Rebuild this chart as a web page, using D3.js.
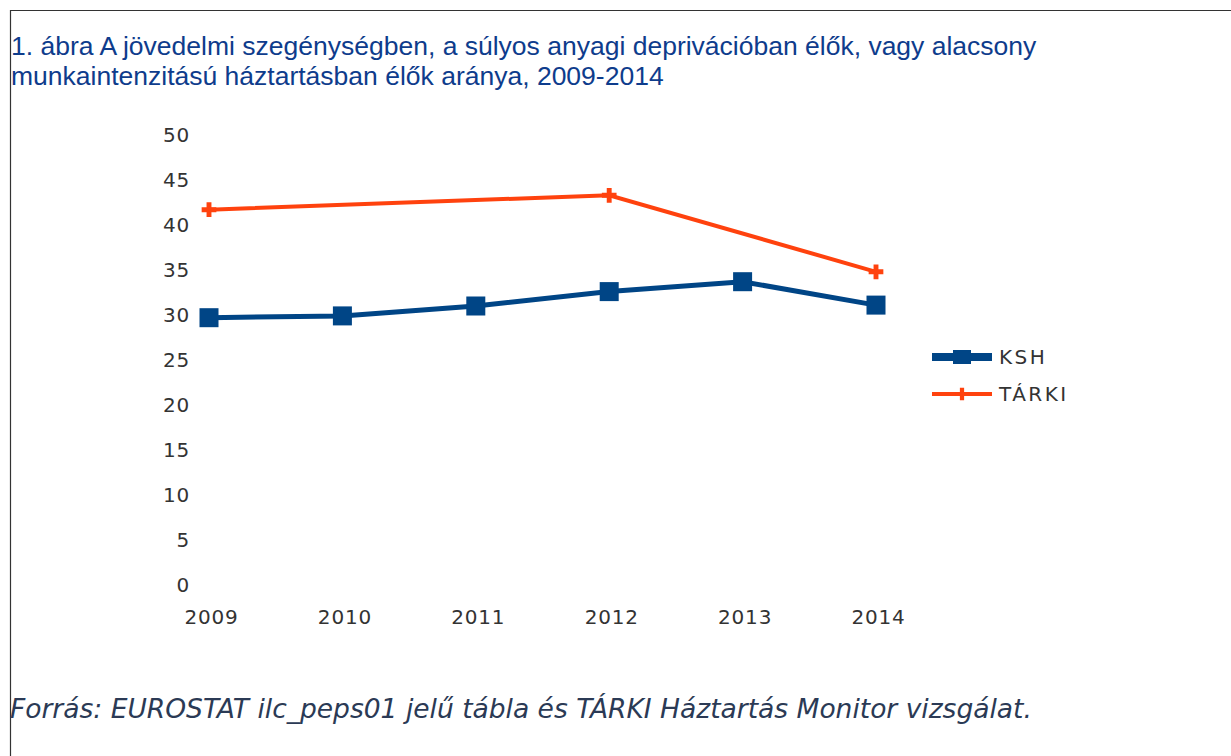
<!DOCTYPE html>
<html>
<head>
<meta charset="utf-8">
<script src="https://cdn.jsdelivr.net/npm/d3@7"></script>
<style>
  html, body { margin: 0; padding: 0; background: #fff; }
  svg { display: block; }
</style>
</head>
<body>
<svg id="chart" width="1231" height="756"></svg>
<script>
const years = ["2009", "2010", "2011", "2012", "2013", "2014"]
const kshValues = [29.7, 29.9, 31.0, 32.6, 33.7, 31.1]
// TÁRKI only has three survey years; the line joins them directly
const tarkiYears = ["2009", "2012", "2014"]
const tarkiValues = [41.7, 43.3, 34.8]
const yTicks = [0, 5, 10, 15, 20, 25, 30, 35, 40, 45, 50]
const titleLines = [
  "1. ábra A jövedelmi szegénységben, a súlyos anyagi deprivációban élők, vagy alacsony",
  "munkaintenzitású háztartásban élők aránya, 2009-2014"
]
const sourceText = "Forrás: EUROSTAT ilc_peps01 jelű tábla és TÁRKI Háztartás Monitor vizsgálat."

const blue = "#004586"
const orange = "#ff420e"

const svg = d3.select("#chart")

// frame (only top and left edges are visible)
svg.append("path")
  .attr("d", "M10.5,756 V10.5 H1231")
  .attr("fill", "none")
  .attr("stroke", "#333")
  .attr("stroke-width", 1.2)

svg.append("g")
  .selectAll("text")
  .data(titleLines)
  .join("text")
    .attr("x", 11)
    .attr("y", (d, i) => 55 + i * 30)
    .attr("fill", "#0e3c8c")
    .style("font-family", "'Liberation Sans', Arial, sans-serif")
    .style("font-size", "26.5px")
    .text(d => d)

svg.append("text")
  .attr("x", 10)
  .attr("y", 718)
  .attr("fill", "#2b3a55")
  .style("font-family", "'DejaVu Sans', sans-serif")
  .style("font-style", "italic")
  .style("font-size", "26.5px")
  .text(sourceText)

const x = d3.scalePoint()
  .domain(years)
  .range([209, 876])
const y = d3.scaleLinear()
  .domain([0, 50])
  .range([585, 135])

const tickFont = g => g
  .call(g => g.select(".domain").remove())
  .call(g => g.selectAll("text")
    .attr("fill", "#333")
    .style("font-family", "'DejaVu Sans', sans-serif")
    .style("font-size", "20px")
    .style("letter-spacing", "0.8px"))

svg.append("g")
  .attr("transform", "translate(190,0)")
  .call(d3.axisLeft(y).tickValues(yTicks).tickSize(0).tickPadding(0))
  .call(tickFont)

svg.append("g")
  .attr("transform", "translate(2,610)")
  .call(d3.axisBottom(x).tickSize(0).tickPadding(0))
  .call(tickFont)

const line = d3.line()
  .x(d => x(d.year))
  .y(d => y(d.value))

const ksh = years.map((yr, i) => ({year: yr, value: kshValues[i]}))
const tarki = tarkiYears.map((yr, i) => ({year: yr, value: tarkiValues[i]}))

svg.append("path")
  .datum(ksh)
  .attr("d", line)
  .attr("fill", "none")
  .attr("stroke", blue)
  .attr("stroke-width", 5)

svg.append("g")
  .selectAll("rect")
  .data(ksh)
  .join("rect")
    .attr("x", d => x(d.year) - 9.5)
    .attr("y", d => y(d.value) - 9.5)
    .attr("width", 19)
    .attr("height", 19)
    .attr("fill", blue)

svg.append("path")
  .datum(tarki)
  .attr("d", line)
  .attr("fill", "none")
  .attr("stroke", orange)
  .attr("stroke-width", 4)

const cross = d3.symbol().type(d3.symbolCross).size(120)
svg.append("g")
  .selectAll("path")
  .data(tarki)
  .join("path")
    .attr("d", cross)
    .attr("transform", d => `translate(${x(d.year)},${y(d.value)})`)
    .attr("fill", orange)

// legend
const legend = [
  {name: "KSH", color: blue, width: 8, y: 357},
  {name: "TÁRKI", color: orange, width: 4, y: 394}
]
const lg = svg.append("g")
  .selectAll("g")
  .data(legend)
  .join("g")
    .attr("transform", d => `translate(932,${d.y})`)

lg.append("line")
  .attr("x1", 0).attr("x2", 60)
  .attr("stroke", d => d.color)
  .attr("stroke-width", d => d.width)

lg.filter(d => d.name === "KSH").append("rect")
  .attr("x", 21).attr("y", -7)
  .attr("width", 18).attr("height", 14)
  .attr("fill", blue)

lg.filter(d => d.name === "TÁRKI").append("path")
  .attr("d", d3.symbol().type(d3.symbolCross).size(90))
  .attr("transform", "translate(30,0)")
  .attr("fill", orange)

lg.append("text")
  .attr("x", 67)
  .attr("dy", "0.36em")
  .attr("fill", "#333")
  .style("font-family", "'DejaVu Sans', sans-serif")
  .style("font-size", "20px")
  .style("letter-spacing", "2.5px")
  .text(d => d.name)
</script>
</body>
</html>
